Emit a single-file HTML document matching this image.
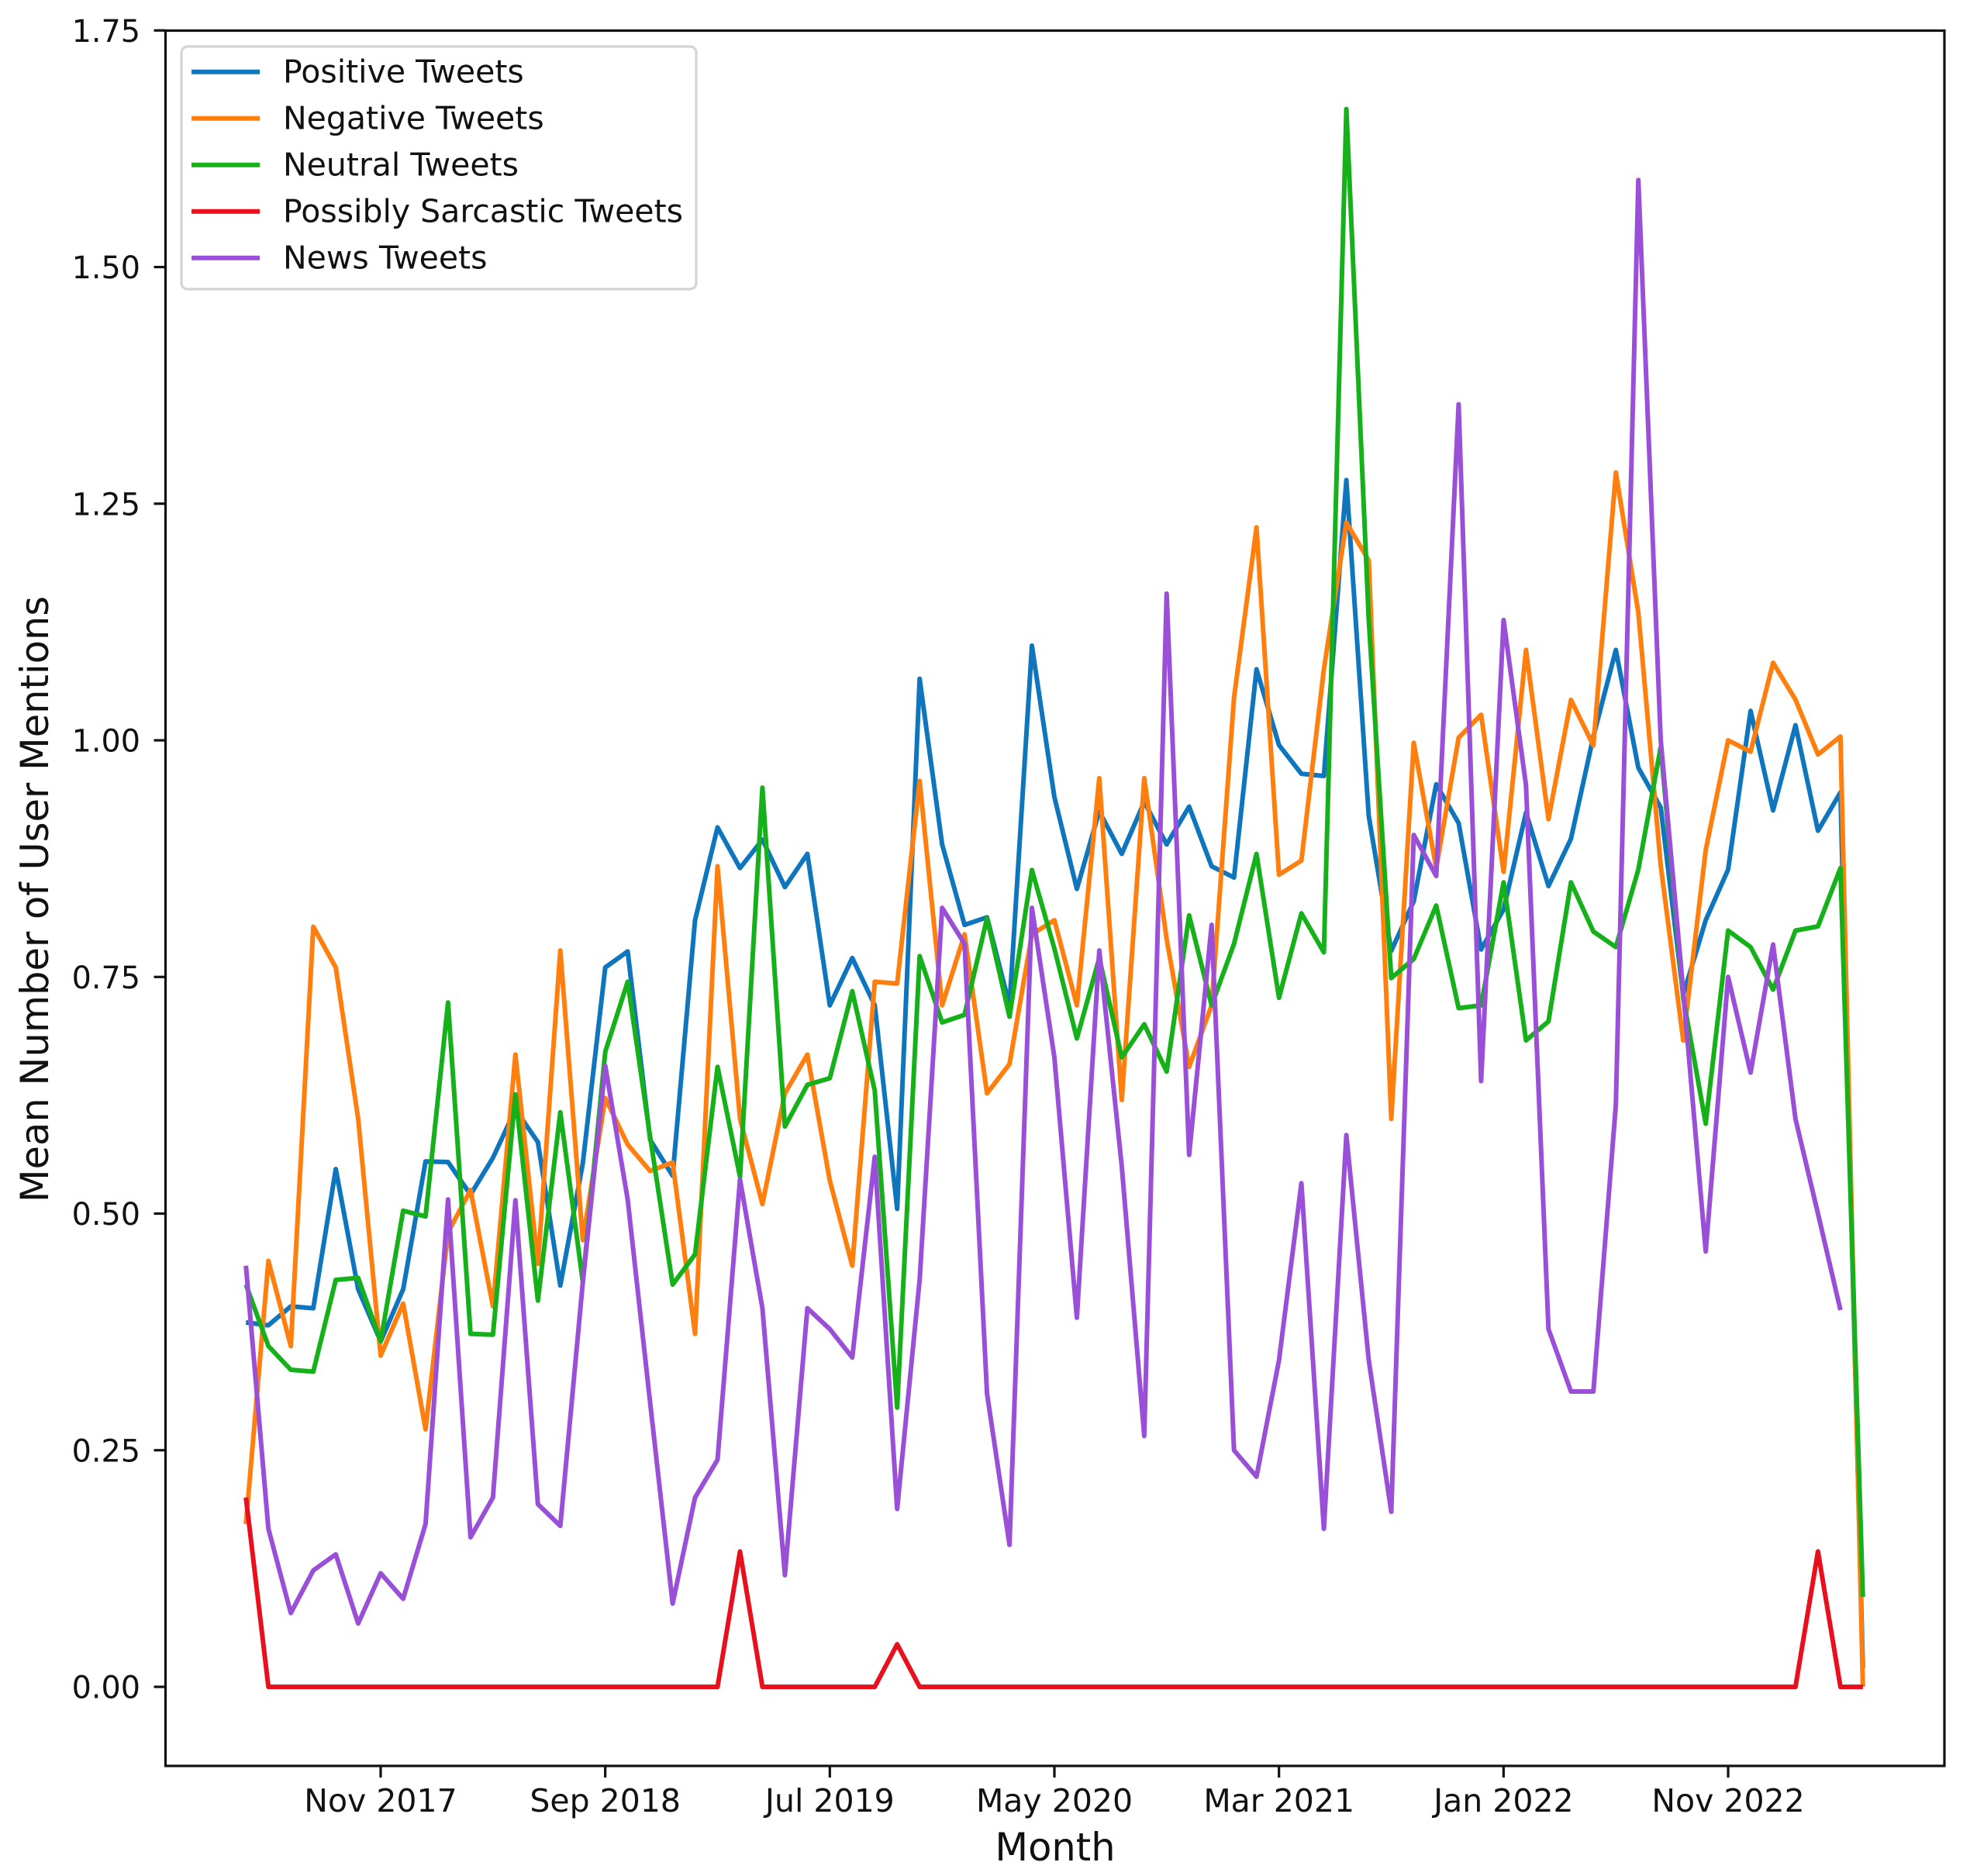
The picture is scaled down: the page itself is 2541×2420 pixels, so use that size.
<!DOCTYPE html>
<html lang="en">
<head>
<meta charset="utf-8">
<title>Mean Number of User Mentions by Month</title>
<style>
html,body{margin:0;padding:0;background:#fff;}
svg{display:block;font-family:"DejaVu Sans","Liberation Sans",sans-serif;}
</style>
</head>
<body>
<svg id="chart" xmlns="http://www.w3.org/2000/svg" width="2541" height="2420" viewBox="0 0 2541 2420"></svg>
<script>
const months = ['May 2017','Jun 2017','Jul 2017','Aug 2017','Sep 2017','Oct 2017','Nov 2017','Dec 2017','Jan 2018','Feb 2018','Mar 2018','Apr 2018','May 2018','Jun 2018','Jul 2018','Aug 2018','Sep 2018','Oct 2018','Nov 2018','Dec 2018','Jan 2019','Feb 2019','Mar 2019','Apr 2019','May 2019','Jun 2019','Jul 2019','Aug 2019','Sep 2019','Oct 2019','Nov 2019','Dec 2019','Jan 2020','Feb 2020','Mar 2020','Apr 2020','May 2020','Jun 2020','Jul 2020','Aug 2020','Sep 2020','Oct 2020','Nov 2020','Dec 2020','Jan 2021','Feb 2021','Mar 2021','Apr 2021','May 2021','Jun 2021','Jul 2021','Aug 2021','Sep 2021','Oct 2021','Nov 2021','Dec 2021','Jan 2022','Feb 2022','Mar 2022','Apr 2022','May 2022','Jun 2022','Jul 2022','Aug 2022','Sep 2022','Oct 2022','Nov 2022','Dec 2022','Jan 2023','Feb 2023','Mar 2023','Apr 2023','May 2023'];
const xTickLabels = ['Nov 2017','Sep 2018','Jul 2019','May 2020','Mar 2021','Jan 2022','Nov 2022'];
const yTickValues = [0,0.25,0.5,0.75,1,1.25,1.5,1.75];
const yTickLabels = ['0.00','0.25','0.50','0.75','1.00','1.25','1.50','1.75'];
const positiveTweets = [0.385,0.382,0.402,0.400,0.547,0.420,0.365,0.420,0.555,0.5545,0.520,0.559,0.610,0.5755,0.424,0.553,0.760,0.777,0.578,0.540,0.810,0.908,0.865,0.895,0.845,0.880,0.720,0.770,0.720,0.505,1.065,0.890,0.805,0.813,0.720,1.100,0.940,0.843,0.925,0.880,0.935,0.890,0.930,0.867,0.855,1.075,0.995,0.9647,0.9623,1.275,0.920,0.7775,0.830,0.9536,0.9126,0.779,0.8213,0.9236,0.846,0.896,1.004,1.0955,0.971,0.929,0.731,0.810,0.8635,1.031,0.926,1.016,0.9045,0.945,0.020];
const negativeTweets = [0.172,0.450,0.360,0.803,0.760,0.600,0.350,0.405,0.272,0.480,0.525,0.402,0.668,0.447,0.778,0.472,0.622,0.573,0.545,0.554,0.373,0.867,0.600,0.510,0.627,0.668,0.535,0.445,0.745,0.743,0.957,0.720,0.795,0.627,0.658,0.795,0.810,0.720,0.960,0.620,0.960,0.790,0.655,0.720,1.045,1.225,0.858,0.873,1.075,1.230,1.190,0.600,0.9973,0.865,1.0027,1.027,0.861,1.0955,0.9167,1.0427,0.9945,1.283,1.135,0.8676,0.683,0.884,1.000,0.988,1.082,1.043,0.985,1.004,0.000];
const neutralTweets = [0.425,0.360,0.335,0.333,0.430,0.432,0.365,0.503,0.497,0.723,0.373,0.372,0.626,0.408,0.607,0.428,0.671,0.745,0.581,0.425,0.457,0.655,0.539,0.950,0.592,0.636,0.643,0.735,0.630,0.295,0.772,0.702,0.710,0.812,0.708,0.863,0.780,0.685,0.770,0.665,0.700,0.650,0.815,0.720,0.785,0.880,0.728,0.8172,0.776,1.667,1.127,0.7488,0.769,0.8255,0.717,0.720,0.850,0.683,0.703,0.850,0.798,0.7816,0.8635,0.993,0.728,0.595,0.799,0.7816,0.7366,0.799,0.8034,0.865,0.095];
const sarcasticTweets = [0.200,0,0,0,0,0,0,0,0,0,0,0,0,0,0,0,0,0,0,0,0,0,0.143,0,0,0,0,0,0,0.045,0,0,0,0,0,0,0,0,0,0,0,0,0,0,0,0,0,0,0,0,0,0,0,0,0,0,0,0,0,0,0,0,0,0,0,0,0,0,0,0,0.143,0,0];
const newsTweets = [0.445,0.167,0.078,0.123,0.140,0.067,0.120,0.093,0.172,0.515,0.158,0.200,0.514,0.193,0.170,0.427,0.656,0.515,0.300,0.088,0.200,0.240,0.536,0.400,0.118,0.400,0.378,0.348,0.560,0.188,0.430,0.823,0.785,0.310,0.150,0.823,0.665,0.390,0.778,0.550,0.265,1.155,0.562,0.805,0.250,0.222,0.345,0.532,0.167,0.583,0.345,0.185,0.900,0.8567,1.355,0.640,1.127,0.9525,0.378,0.312,0.312,0.615,1.592,1.000,0.735,0.460,0.750,0.649,0.7843,0.600,0.500,0.398,null];

const svgNS = 'http://www.w3.org/2000/svg';
const chart = document.getElementById('chart');
const plot = {left:213.5, right:2508, top:39.5, bottom:2278};
function xAt(i){ return 317.2 + 28.967 * i; }
function yAt(v){ return 2176 - 1221 * v; }
function make(tag, attrs, text){
  const el = document.createElementNS(svgNS, tag);
  for (const k in attrs) el.setAttribute(k, attrs[k]);
  if (text !== undefined) el.textContent = text;
  chart.appendChild(el);
  return el;
}

const bg = make('rect',{x:0,y:0,width:2541,height:2420,fill:'#fff'});



const seriesList = [
  {name:'Positive Tweets', key:'positive', color:'#0f76bd', values:positiveTweets},
  {name:'Negative Tweets', key:'negative', color:'#ff7f0e', values:negativeTweets},
  {name:'Neutral Tweets', key:'neutral', color:'#15b01a', values:neutralTweets},
  {name:'Possibly Sarcastic Tweets', key:'sarcastic', color:'#e8101c', values:sarcasticTweets},
  {name:'News Tweets', key:'news', color:'#9a4fd8', values:newsTweets}
];

seriesList.forEach(function(s){
  const pts = [];
  s.values.forEach(function(v,i){ if (v !== null) pts.push(xAt(i).toFixed(1)+','+yAt(v).toFixed(1)); });
  const line = make('polyline',{points:pts.join(' '),fill:'none',stroke:s.color,'stroke-width':6,'stroke-linejoin':'round','stroke-linecap':'butt'});
  
  
});

const frame = make('rect',{x:plot.left,y:plot.top,width:plot.right-plot.left,height:plot.bottom-plot.top,fill:'none',stroke:'#111','stroke-width':3.2});



yTickValues.forEach(function(v,i){
  const t = make('line',{x1:plot.left-15,x2:plot.left,y1:yAt(v),y2:yAt(v),stroke:'#111','stroke-width':3.2});
  
  
  const l = make('text',{x:181,y:yAt(v)+14.5,'text-anchor':'end','font-size':39.7,fill:'#111'},yTickLabels[i]);
  
  
});

xTickLabels.forEach(function(label){
  const x = xAt(months.indexOf(label));
  const t = make('line',{x1:x,x2:x,y1:plot.bottom,y2:plot.bottom+15,stroke:'#111','stroke-width':3.2});
  
  
  const l = make('text',{x:x,y:2337,'text-anchor':'middle','font-size':41,fill:'#111'},label);
  
  
});

const xTitle = make('text',{x:1361,y:2400,'text-anchor':'middle','font-size':49.5,fill:'#111'},'Month');


const yTitle = make('text',{x:0,y:0,'text-anchor':'middle','font-size':49.5,fill:'#111',transform:'translate(62,1160) rotate(-90)'},'Mean Number of User Mentions');



const legendBox = make('rect',{x:234,y:60,width:664,height:313,rx:8,ry:8,fill:'#fff',stroke:'#d4d4d4','stroke-width':3.2});


seriesList.forEach(function(s,i){
  const y = 92.7 + 60 * i;
  const h = make('line',{x1:247,x2:335,y1:y,y2:y,stroke:s.color,'stroke-width':6});
  
  
  const l = make('text',{x:365,y:y+14,'font-size':41,fill:'#111'},s.name);
  
  
});
</script>
</body>
</html>
